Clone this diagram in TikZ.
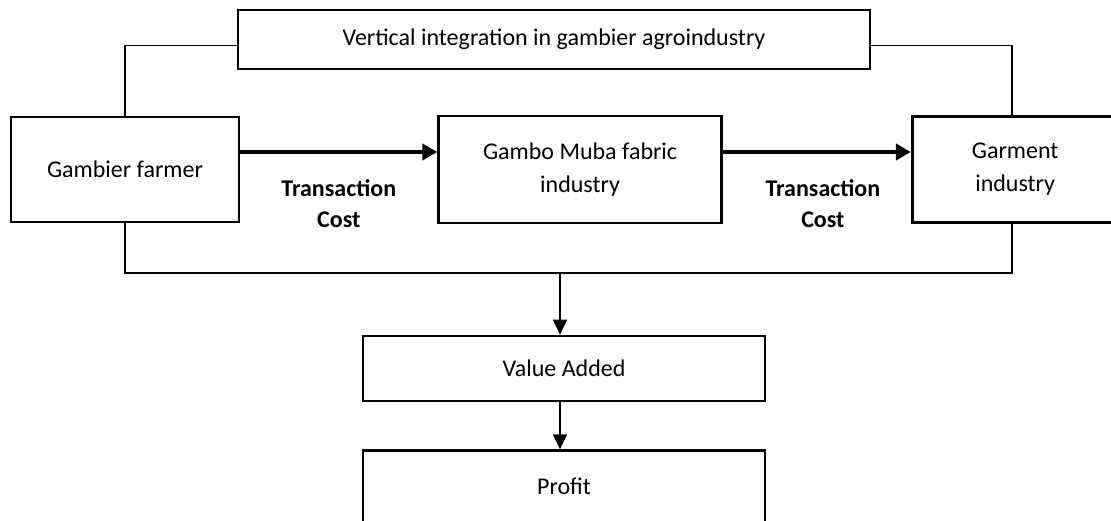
\documentclass[tikz,border=0pt]{standalone}
\usepackage{fontspec}
\setmainfont{Carlito}
\usetikzlibrary{arrows.meta, positioning}

\begin{document}
\begin{tikzpicture}[x=1pt, y=-1pt,
        block/.style={draw, line width=2.6pt, inner sep=0pt, align=center, font=\fontsize{24}{33}\selectfont},
        link/.style={line width=1.8pt},
        flow/.style={line width=3.8pt, -{Triangle[length=15pt,width=16pt]}},
        drop/.style={line width=1.8pt, -{Triangle[length=15pt,width=14pt]}},
        cost/.style={font=\bfseries\fontsize{24}{31}\selectfont, align=center, inner sep=0pt}]
        \useasboundingbox (0,0) rectangle (1111,521);

        \node[block, minimum width=632pt, minimum height=59pt]  (vtop)    at (554,39.5)          {Vertical integration in gambier agroindustry};
        \node[block, minimum width=228pt, minimum height=105pt] (farmer)  at (125,169.5)         {Gambier farmer};
        \node[block, minimum width=283pt, minimum height=107pt] (fabric)  [right=197pt of farmer] {Gambo Muba fabric\\industry};
        \node[block, minimum width=206pt, minimum height=106pt] (garment) [right=188pt of fabric] {Garment\\industry};
        \node[block, minimum width=402pt, minimum height=65pt]  (value)   at (564,368.5)         {Value Added};
        \node[block, minimum width=402pt, minimum height=72pt]  (profit)  [below=47pt of value]  {Profit};

        \coordinate (bus) at (560,273);
        \coordinate (ra)  at (0,152);

        \draw[link] (farmer.north) |- ([yshift=-6pt]vtop.west);
        \draw[link] ([yshift=-6pt]vtop.east) -| ([xshift=-3pt]garment.north);
        \draw[link] (farmer.south) |- (bus) -| ([xshift=-3pt]garment.south);

        \path[flow] (farmer.east |- ra) edge node[cost, below=26pt] {Transaction\\Cost} (fabric.west |- ra)
        (fabric.east |- ra) edge node[cost, below=26pt, xshift=6pt] {Transaction\\Cost} (garment.west |- ra)
        ;

        \draw[drop] (bus) -- (bus |- value.north);
        \draw[drop] (value.south -| bus) -- (profit.north -| bus);
    \end{tikzpicture}
\end{document}
